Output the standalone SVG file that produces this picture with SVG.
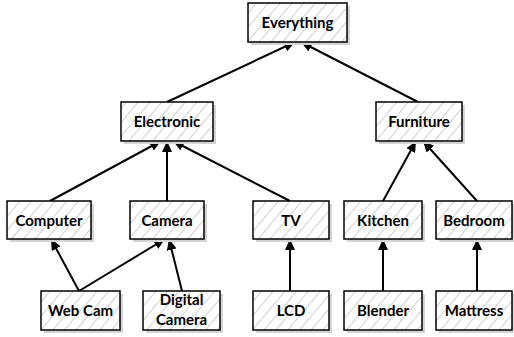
<svg xmlns="http://www.w3.org/2000/svg" width="514" height="337" viewBox="0 0 514 337">
<defs>
<pattern id="hatch" patternUnits="userSpaceOnUse" width="9" height="9" patternTransform="rotate(40)">
<rect width="9" height="9" fill="#fff"/>
<line x1="0" y1="0" x2="0" y2="9" stroke="#c4c4c4" stroke-width="1.6"/>
</pattern>
<marker id="arr" markerUnits="userSpaceOnUse" markerWidth="12" markerHeight="10" refX="11" refY="5" orient="auto">
<path d="M0,0 L11,5 L0,10 z" fill="#000"/>
</marker>
<style>
.sh{fill:#d4d4d4}
.bx{fill:url(#hatch);stroke:#000;stroke-width:1.5}
.t{font-family:Lato,"Open Sans","Liberation Sans",sans-serif;font-weight:bold;font-size:15px;fill:#000;text-anchor:middle}
.c line{stroke:#000;stroke-width:2;marker-end:url(#arr)}
</style>
</defs>
<rect width="514" height="337" fill="#fff"/>
<g class="c" id="connectors">
<line x1="167" y1="102" x2="295" y2="42"/>
<line x1="418" y1="102" x2="301" y2="42"/>
<line x1="50" y1="201" x2="161" y2="141"/>
<line x1="167" y1="201" x2="167" y2="141"/>
<line x1="290" y1="201" x2="173" y2="141"/>
<line x1="383" y1="201" x2="416" y2="141"/>
<line x1="477" y1="201" x2="423" y2="141"/>
<line x1="79" y1="291" x2="51" y2="239"/>
<line x1="79" y1="291" x2="165" y2="239"/>
<line x1="182" y1="291" x2="169" y2="239"/>
<line x1="290" y1="291" x2="290" y2="239"/>
<line x1="383" y1="291" x2="383" y2="239"/>
<line x1="477" y1="291" x2="477" y2="239"/>
</g>
<g id="everything"><rect class="sh" x="251" y="6" width="99" height="39"/><rect class="bx" x="248" y="3" width="99" height="39"/><text class="t" x="297.5" y="28">Everything</text></g>
<g id="electronic"><rect class="sh" x="124" y="105" width="92" height="39"/><rect class="bx" x="121" y="102" width="92" height="39"/><text class="t" x="167" y="127">Electronic</text></g>
<g id="furniture"><rect class="sh" x="379" y="105" width="86" height="39"/><rect class="bx" x="376" y="102" width="86" height="39"/><text class="t" x="419" y="127">Furniture</text></g>
<g id="computer"><rect class="sh" x="10" y="204" width="84" height="38"/><rect class="bx" x="7" y="201" width="84" height="38"/><text class="t" x="49" y="225.5">Computer</text></g>
<g id="camera"><rect class="sh" x="133" y="204" width="74" height="38"/><rect class="bx" x="130" y="201" width="74" height="38"/><text class="t" x="167" y="225.5">Camera</text></g>
<g id="tv"><rect class="sh" x="256" y="204" width="76" height="38"/><rect class="bx" x="253" y="201" width="76" height="38"/><text class="t" x="291" y="225.5">TV</text></g>
<g id="kitchen"><rect class="sh" x="347" y="204" width="78" height="38"/><rect class="bx" x="344" y="201" width="78" height="38"/><text class="t" x="383" y="225.5">Kitchen</text></g>
<g id="bedroom"><rect class="sh" x="439" y="204" width="76" height="38"/><rect class="bx" x="436" y="201" width="76" height="38"/><text class="t" x="474" y="225.5">Bedroom</text></g>
<g id="webcam"><rect class="sh" x="44" y="294" width="79" height="39"/><rect class="bx" x="41" y="291" width="79" height="39"/><text class="t" x="80.5" y="316">Web Cam</text></g>
<g id="digitalcamera"><rect class="sh" x="146" y="294" width="77" height="39"/><rect class="bx" x="143" y="291" width="77" height="39"/><text class="t" x="181.5" y="305">Digital</text><text class="t" x="181.5" y="325">Camera</text></g>
<g id="lcd"><rect class="sh" x="256" y="294" width="76" height="39"/><rect class="bx" x="253" y="291" width="76" height="39"/><text class="t" x="291" y="316">LCD</text></g>
<g id="blender"><rect class="sh" x="347" y="294" width="78" height="39"/><rect class="bx" x="344" y="291" width="78" height="39"/><text class="t" x="383" y="316">Blender</text></g>
<g id="mattress"><rect class="sh" x="439" y="294" width="76" height="39"/><rect class="bx" x="436" y="291" width="76" height="39"/><text class="t" x="474" y="316">Mattress</text></g>
</svg>
